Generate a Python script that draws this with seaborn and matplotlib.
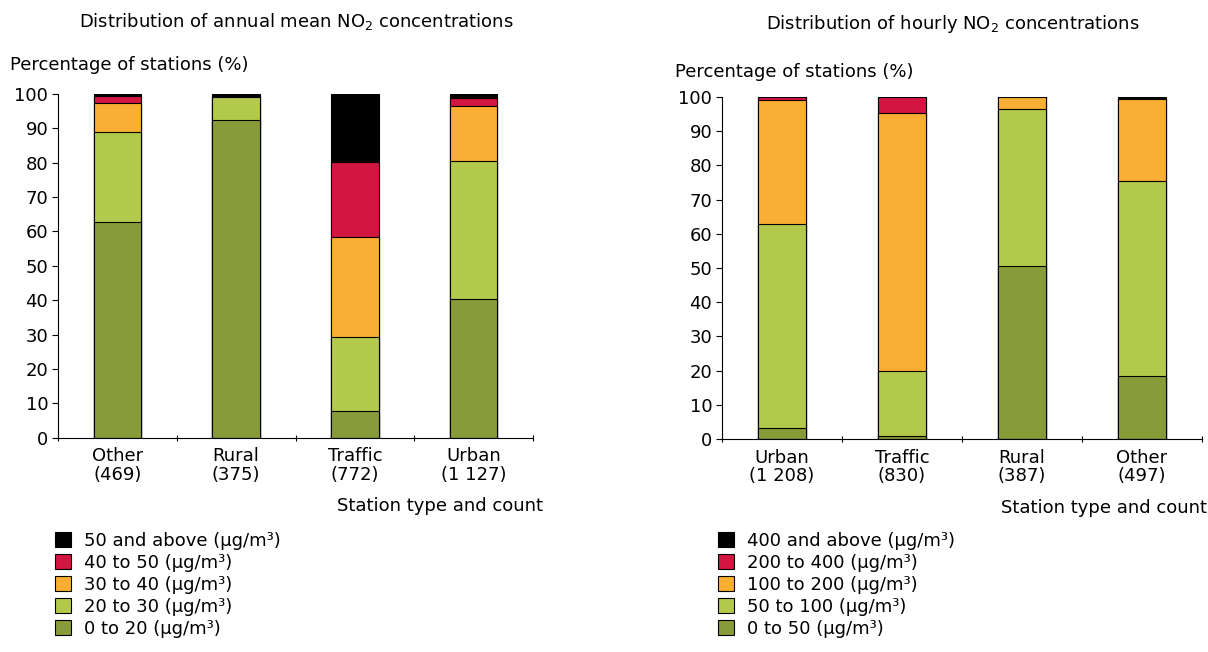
import matplotlib
matplotlib.use("Agg")
import matplotlib.pyplot as plt
from matplotlib.patches import Patch
import numpy as np
import pandas as pd
import seaborn as sns

# ---- data ----
annual_categories = ["Other\n(469)", "Rural\n(375)", "Traffic\n(772)", "Urban\n(1 127)"]
annual_bands = ["0 to 20 (μg/m³)", "20 to 30 (μg/m³)", "30 to 40 (μg/m³)",
                "40 to 50 (μg/m³)", "50 and above (μg/m³)"]
annual_0_20 = [62.7, 92.5, 7.8, 40.5]
annual_20_30 = [26.1, 6.5, 21.6, 39.9]
annual_30_40 = [8.5, 0.5, 28.9, 16.2]
annual_40_50 = [2.2, 0.3, 21.9, 2.2]
annual_50_up = [0.5, 0.2, 19.8, 1.2]

hourly_categories = ["Urban\n(1 208)", "Traffic\n(830)", "Rural\n(387)", "Other\n(497)"]
hourly_bands = ["0 to 50 (μg/m³)", "50 to 100 (μg/m³)", "100 to 200 (μg/m³)",
                "200 to 400 (μg/m³)", "400 and above (μg/m³)"]
hourly_0_50 = [3.3, 0.9, 50.7, 18.3]
hourly_50_100 = [59.6, 19.0, 45.9, 57.0]
hourly_100_200 = [36.1, 75.5, 3.4, 24.2]
hourly_200_400 = [0.9, 4.6, 0.0, 0.3]
hourly_400_up = [0.1, 0.0, 0.0, 0.2]

colors = ["#879B38", "#B3C94C", "#FAAE34", "#D31541", "#000000"]

sns.set_theme(style="white")
plt.rcParams["font.family"] = ["DejaVu Sans"]
plt.rcParams["text.color"] = "black"
plt.rcParams["axes.labelcolor"] = "black"
plt.rcParams["xtick.color"] = "black"
plt.rcParams["ytick.color"] = "black"

FS = 13

fig = plt.figure(figsize=(12.08, 6.52), dpi=100)
axL = fig.add_axes([58/1208, 1-437.7/652, (533-58)/1208, (437.7-94)/652])
axR = fig.add_axes([722/1208, 1-439/652, (1202-722)/1208, (439-97)/652])


def draw(ax, cats, series, bands):
    cum = np.cumsum(np.array(series), axis=0)
    for i in range(len(series) - 1, -1, -1):
        df = pd.DataFrame({"cat": cats, "val": cum[i]})
        sns.barplot(data=df, x="cat", y="val", color=colors[i], saturation=1,
                    width=0.4, edgecolor="black", linewidth=0.8,
                    errorbar=None, ax=ax, order=cats)
    ax.set_ylim(0, 100)
    ax.set_xlim(-0.5, len(cats) - 0.5)
    ax.set_yticks(range(0, 101, 10))
    ax.set_xlabel("")
    ax.set_ylabel("")
    for s in ["top", "right"]:
        ax.spines[s].set_visible(False)
    for s in ["left", "bottom"]:
        ax.spines[s].set_color("black")
        ax.spines[s].set_linewidth(0.8)
    ax.tick_params(axis="y", which="major", left=True, length=4, width=0.8,
                   color="black", labelsize=FS, pad=3, labelcolor="black")
    ax.tick_params(axis="x", which="major", bottom=False, labelsize=FS, pad=1,
                   labelcolor="black")
    ax.set_xticks(np.arange(-0.5, len(cats), 1.0), minor=True)
    ax.tick_params(axis="x", which="minor", bottom=True, length=5, width=0.8,
                   direction="inout", color="black")
    for lbl in ax.get_xticklabels():
        lbl.set_linespacing(1.05)
    handles = [Patch(facecolor=colors[i], edgecolor="black", linewidth=0.8,
                     label=bands[i]) for i in range(len(bands) - 1, -1, -1)]
    return handles


hL = draw(axL, annual_categories,
          [annual_0_20, annual_20_30, annual_30_40, annual_40_50, annual_50_up],
          annual_bands)
hR = draw(axR, hourly_categories,
          [hourly_0_50, hourly_50_100, hourly_100_200, hourly_200_400, hourly_400_up],
          hourly_bands)

# titles and axis labels
fig.text(296/1208, 1-22/652, "Distribution of annual mean NO$_2$ concentrations",
         ha="center", va="center", fontsize=FS)
fig.text(953/1208, 1-24/652, "Distribution of hourly NO$_2$ concentrations",
         ha="center", va="center", fontsize=FS)
fig.text(10/1208, 1-65/652, "Percentage of stations (%)", ha="left", va="center", fontsize=FS)
fig.text(675/1208, 1-72/652, "Percentage of stations (%)", ha="left", va="center", fontsize=FS)
fig.text(543/1208, 1-506/652, "Station type and count", ha="right", va="center", fontsize=FS)
fig.text(1207/1208, 1-508/652, "Station type and count", ha="right", va="center", fontsize=FS)

legkw = dict(loc="upper left", frameon=False, fontsize=FS, handlelength=0.9,
             handleheight=0.9, handletextpad=0.7, labelspacing=0.22,
             borderaxespad=0, borderpad=0)
fig.legend(handles=hL, bbox_to_anchor=(55/1208, 1-532/652), **legkw)
fig.legend(handles=hR, bbox_to_anchor=(718/1208, 1-532/652), **legkw)

fig.savefig("out.png", dpi=100)
